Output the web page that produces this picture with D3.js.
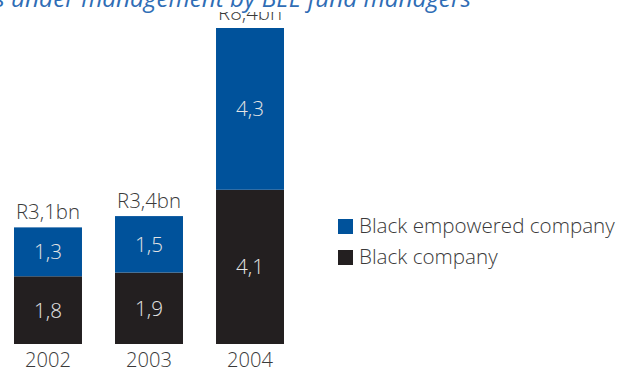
<!DOCTYPE html>
<html>
<head>
<meta charset="utf-8">
<script src="https://cdn.jsdelivr.net/npm/d3@7"></script>
<style>
  html, body { margin: 0; padding: 0; background: #fff; }
  svg { display: block; }
  text { font-family: "Open Sans", Roboto, sans-serif; font-weight: 300; }
</style>
</head>
<body>
<svg id="chart" width="622" height="370"></svg>
<script>
// Assets held by BEE fund managers, R billion
const years = ["2002", "2003", "2004"];
const blackCompany = [1.8, 1.9, 4.1];
const blackEmpowered = [1.3, 1.5, 4.3];
const totalLabels = ["R3,1bn", "R3,4bn", "R8,4bn"];
const seriesNames = ["Black empowered company", "Black company"];
const seriesColors = ["#00529b", "#231f20"];
const titleText = "Assets under management by BEE fund managers";

const fmt = v => String(v).replace(".", ",");

const svg = d3.select("#chart");
const W = 622, H = 370;

// font size that makes a string span a given width
function fitSize(str, width, extra) {
  const t = svg.append("text").attr("font-size", 100).text(str);
  if (extra) extra(t);
  const w = t.node().getComputedTextLength();
  t.remove();
  return 100 * width / w;
}

const labelSize = fitSize("R3,1bn", 64);
const yearSize = fitSize("2002", 46);
const valueSize = fitSize("1,3", 28);
const legendSize = fitSize("Black empowered company", 256);
const titleSize = fitSize("under management by BEE fund managers", 460,
  t => t.attr("font-style", "italic").style("font-weight", 400));

const rows = years.map((y, i) => ({
  year: y,
  black: blackCompany[i],
  empowered: blackEmpowered[i],
  label: totalLabels[i]
}));

const stack = d3.stack().keys(["black", "empowered"]);
const layers = stack(rows);

const x = d3.scaleBand().domain(years).range([14, 284]).paddingInner(0.327).paddingOuter(0);
const y = d3.scaleLinear()
  .domain([0, d3.max(rows, d => d.black + d.empowered)])
  .range([344, 28]);

const colorByKey = { empowered: seriesColors[0], black: seriesColors[1] };

// stacked segments
const g = svg.append("g");
layers.forEach(layer => {
  g.selectAll(null).data(layer).join("rect")
    .attr("x", d => x(d.data.year))
    .attr("y", d => y(d[1]))
    .attr("width", x.bandwidth())
    .attr("height", d => y(d[0]) - y(d[1]))
    .attr("fill", colorByKey[layer.key]);

  // value inside each segment
  g.selectAll(null).data(layer).join("text")
    .attr("x", d => x(d.data.year) + x.bandwidth() / 2)
    .attr("y", d => (y(d[0]) + y(d[1])) / 2)
    .attr("dy", "0.36em")
    .attr("text-anchor", "middle")
    .attr("font-size", valueSize)
    .attr("fill", "#e4e4e4")
    .text(d => fmt(d.data[layer.key]));
});

// totals above bars
g.selectAll(null).data(rows).join("text")
  .attr("x", d => x(d.year) + x.bandwidth() / 2)
  .attr("y", d => y(d.black + d.empowered) - 8)
  .attr("text-anchor", "middle")
  .attr("font-size", labelSize)
  .attr("fill", "#3a3a3a")
  .text(d => d.label);

// category axis
const xAxis = svg.append("g")
  .attr("transform", "translate(0,344)")
  .call(d3.axisBottom(x).tickSize(0).tickPadding(0));
xAxis.select(".domain").remove();
xAxis.selectAll("text")
  .attr("y", 23)
  .attr("dy", 0)
  .attr("font-size", yearSize)
  .attr("fill", "#3a3a3a")
  .style("font-family", "'Open Sans', Roboto, sans-serif")
  .style("font-weight", 300);

// legend
const legend = svg.append("g").attr("transform", "translate(338,219)");
seriesNames.forEach((name, i) => {
  const row = legend.append("g").attr("transform", `translate(0,${i * 31})`);
  row.append("rect").attr("width", 15).attr("height", 15).attr("fill", seriesColors[i]);
  row.append("text").attr("x", 21).attr("y", 14)
    .attr("font-size", legendSize)
    .attr("fill", "#3a3a3a")
    .text(name);
});

// title band across the top
svg.append("rect").attr("x", 0).attr("y", 0).attr("width", W).attr("height", 12).attr("fill", "#fff");
svg.append("text")
  .attr("x", 471).attr("y", 7)
  .attr("text-anchor", "end")
  .attr("font-size", titleSize)
  .attr("font-style", "italic")
  .style("font-weight", 400)
  .attr("fill", "#2f6db5")
  .text(titleText);
</script>
</body>
</html>
